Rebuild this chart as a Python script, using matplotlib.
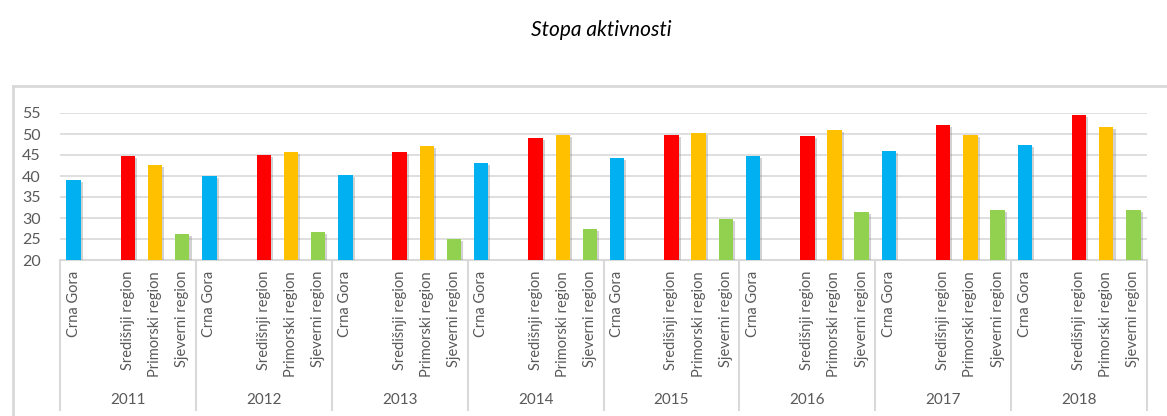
import matplotlib
matplotlib.use("Agg")
import matplotlib.pyplot as plt
import matplotlib.transforms as mtransforms
import matplotlib.patheffects as pe
from matplotlib.lines import Line2D

plt.rcParams['font.family'] = ['Lato', 'DejaVu Sans']

years = ['2011', '2012', '2013', '2014', '2015', '2016', '2017', '2018']
categories = ['Crna Gora', 'Središnji region', 'Primorski region', 'Sjeverni region']
crna_gora = [39.1, 40.0, 40.2, 43.1, 44.2, 44.8, 45.9, 47.4]
sredisnji = [44.8, 45.1, 45.8, 49.1, 49.8, 49.6, 52.2, 54.6]
primorski = [42.7, 45.8, 47.2, 49.8, 50.3, 51.0, 49.8, 51.7]
sjeverni = [26.2, 26.7, 25.0, 27.4, 29.8, 31.5, 31.9, 31.9]
series = [crna_gora, sredisnji, primorski, sjeverni]
colors = ['#00b0f0', '#ff0000', '#ffc000', '#92d050']
slot_offsets = [0, 2, 3, 4]   # slot 1 is an empty category in the source chart
slots_per_group = 5

W, H = 1167, 416
fig = plt.figure(figsize=(W / 100, H / 100), dpi=100)
ax = fig.add_axes([60 / W, (H - 260) / H, (1147 - 60) / W, (260 - 113) / H])

text_color = '#595959'
grid_color = '#d9d9d9'

shadow = [pe.SimplePatchShadow(offset=(1.5, -1.5), shadow_rgbFace='#7f7f7f', alpha=0.35), pe.Normal()]

ticks, ticklabels = [], []
for si, (vals, col, off) in enumerate(zip(series, colors, slot_offsets)):
    xs = [g * slots_per_group + off for g in range(len(years))]
    heights = [v - 20 for v in vals]
    bars = ax.bar(xs, heights, bottom=20, width=0.53, color=col, zorder=3)
    for b in bars:
        b.set_path_effects(shadow)
    ticks += xs
    ticklabels += [categories[si]] * len(xs)

ax.set_xlim(-0.5, slots_per_group * len(years) - 0.5)
ax.set_ylim(20, 55)
ax.set_yticks(range(20, 56, 5))
ax.yaxis.grid(True, color=grid_color, linewidth=1.2, zorder=0)
ax.set_axisbelow(True)
for s in ['top', 'right', 'left']:
    ax.spines[s].set_visible(False)
ax.spines['bottom'].set_color(grid_color)
ax.spines['bottom'].set_linewidth(1.5)
ax.tick_params(axis='y', length=0, pad=14, labelsize=11.5, labelcolor=text_color)

ax.set_xticks(ticks)
ax.set_xticklabels(ticklabels, rotation=90, fontsize=10.5, color=text_color, va='top', ha='center')
ax.tick_params(axis='x', length=0, pad=8)

trans = mtransforms.blended_transform_factory(ax.transData, fig.transFigure)
for g in range(len(years) + 1):
    x = g * slots_per_group - 0.5
    ax.add_line(Line2D([x, x], [(H - 410) / H, (H - 260) / H], transform=trans,
                       color=grid_color, linewidth=1.5, clip_on=False))
for g, y in enumerate(years):
    ax.text(g * slots_per_group + 2, (H - 400) / H, y, transform=trans, ha='center',
            va='center', fontsize=11, color=text_color)

# outer chart border
fig.add_artist(Line2D([13 / W, 1.0], [(H - 86) / H] * 2, transform=fig.transFigure,
                      color=grid_color, linewidth=2))
fig.add_artist(Line2D([13 / W, 13 / W], [(H - 86) / H, 0], transform=fig.transFigure,
                      color=grid_color, linewidth=2))

fig.text(601 / W, (H - 30) / H, 'Stopa aktivnosti', ha='center', va='center',
         fontsize=15, style='italic', color='black')

fig.savefig('out.png', dpi=100, facecolor='white')
